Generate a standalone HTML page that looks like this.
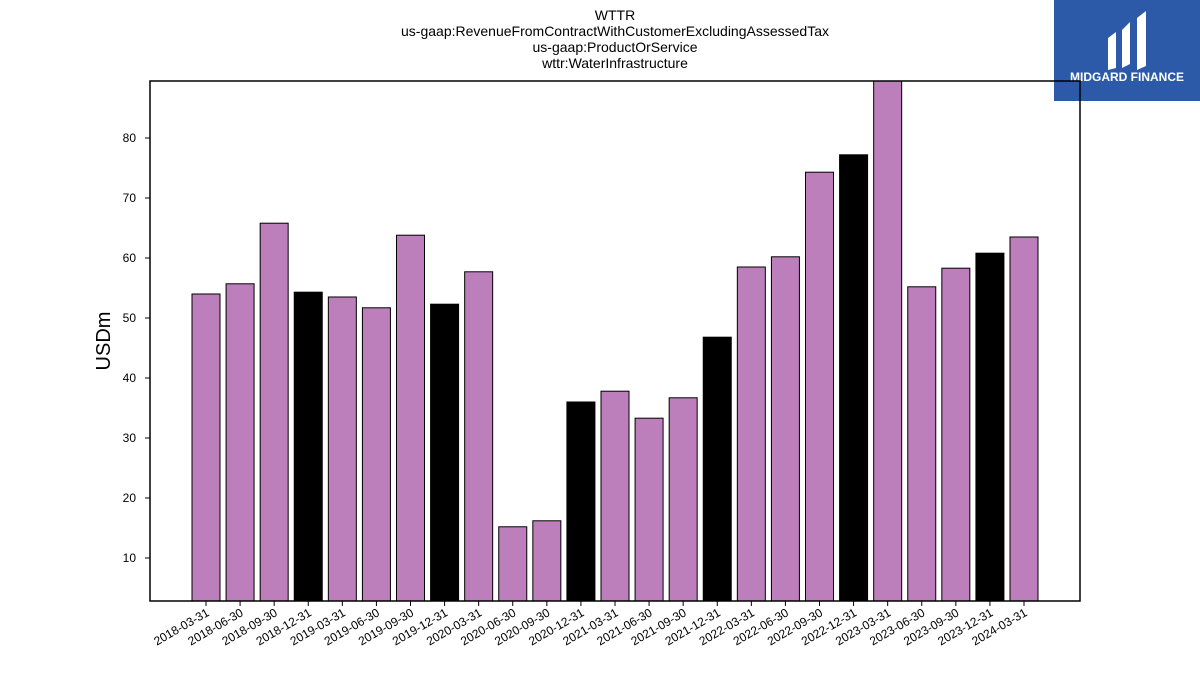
<!DOCTYPE html>
<html><head><meta charset="utf-8"><style>
body{margin:0;background:#fff;font-family:"Liberation Sans","DejaVu Sans",sans-serif;}
</style></head><body>
<svg id="chart" width="1200" height="675" xmlns="http://www.w3.org/2000/svg">
<rect width="1200" height="675" fill="#fff"/>
<g font-size="14" text-anchor="middle" fill="#000">
<text x="615" y="20">WTTR</text>
<text x="615" y="36">us-gaap:RevenueFromContractWithCustomerExcludingAssessedTax</text>
<text x="615" y="52">us-gaap:ProductOrService</text>
<text x="615" y="68">wttr:WaterInfrastructure</text>
</g>
<g>
<rect x="1054" y="0" width="146" height="101" fill="#2c5aa8"/>
<path d="M1108 38 L1116 32 L1116 68 L1108 70 Z M1122 30 L1130 22 L1130 64 L1122 68 Z M1137 18 L1146 11 L1146 66 L1137 70 Z" fill="#fff"/>
<text x="1127" y="81" font-size="12" font-weight="bold" fill="#fff" text-anchor="middle">MIDGARD FINANCE</text>
</g>
<g id="plot"></g>
<text x="110" y="341" font-size="20" text-anchor="middle" transform="rotate(-90 110 341)">USDm</text>
</svg>
<script>
const categories=["2018-03-31","2018-06-30","2018-09-30","2018-12-31","2019-03-31","2019-06-30","2019-09-30","2019-12-31","2020-03-31","2020-06-30","2020-09-30","2020-12-31","2021-03-31","2021-06-30","2021-09-30","2021-12-31","2022-03-31","2022-06-30","2022-09-30","2022-12-31","2023-03-31","2023-06-30","2023-09-30","2023-12-31","2024-03-31"];
const values=[54.0,55.7,65.8,54.3,53.5,51.7,63.8,52.3,57.7,15.2,16.2,36.0,37.8,33.3,36.7,46.8,58.5,60.2,74.3,77.2,90.0,55.2,58.3,60.8,63.5];
const yTicks=[10,20,30,40,50,60,70,80];
const yMin=2.83,yMax=89.5;
const L=150,R=1080,T=81,B=601;
const y=v=>B-(v-yMin)/(yMax-yMin)*(B-T);
const x=i=>206+i*(1024-206)/(categories.length-1);
const NS="http://www.w3.org/2000/svg";
const g=document.getElementById('plot');
function mk(t,a){const e=document.createElementNS(NS,t);for(const k in a)e.setAttribute(k,a[k]);g.appendChild(e);return e;}
const cp=mk('clipPath',{id:'cp'});
const cr=document.createElementNS(NS,'rect');cr.setAttribute('x',L);cr.setAttribute('y',T);cr.setAttribute('width',R-L);cr.setAttribute('height',B-T);cp.appendChild(cr);
categories.forEach((c,i)=>{
 const top=Math.max(y(values[i]),T-2);
 const b=mk('rect',{x:x(i)-14,y:top,width:28,height:B-top,fill:c.endsWith('12-31')?'#000':'#bc7fbc',stroke:'#000','stroke-width':1,'clip-path':'url(#cp)'});
 
 
 const tk=mk('line',{x1:x(i),x2:x(i),y1:B,y2:B+5,stroke:'#000'});
 
 
 const t=mk('text',{x:x(i)+4,y:B+14,'font-size':12,'text-anchor':'end',transform:`rotate(-30 ${x(i)+4} ${B+14})`});
 t.textContent=c;
 
 
});
yTicks.forEach(v=>{
 const tk=mk('line',{x1:L-5,x2:L,y1:y(v),y2:y(v),stroke:'#000'});
 
 
 const t=mk('text',{x:L-14,y:y(v)+4,'font-size':12,'text-anchor':'end'});
 t.textContent=v;
 
 
});
const f=mk('rect',{x:L,y:T,width:R-L,height:B-T,fill:'none',stroke:'#000','stroke-width':1.5});


</script>
</body></html>
